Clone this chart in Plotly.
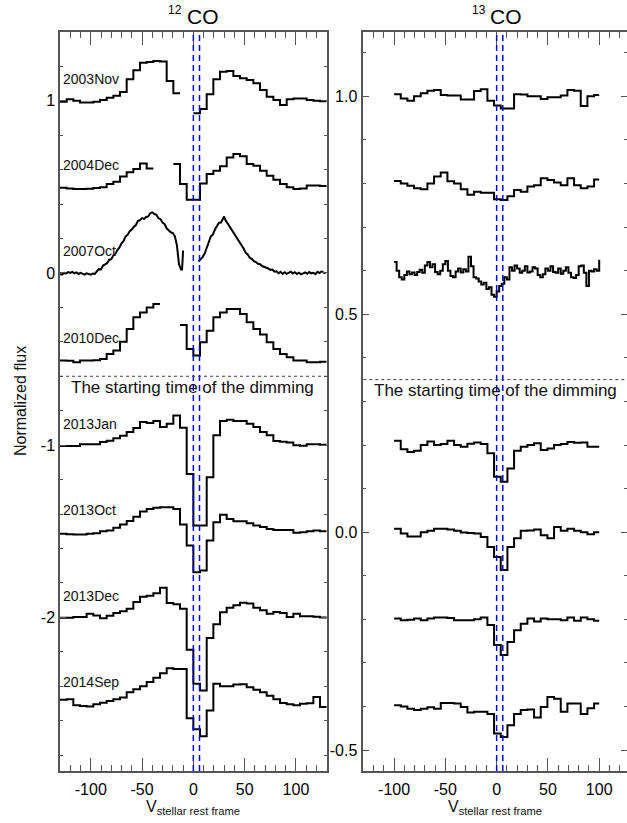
import plotly.graph_objects as go

FONT = "Liberation Sans, Arial, Helvetica, sans-serif"

# ---------------- 12CO (left panel) ----------------
v12_edges = [-130, -123.5, -117, -110.5, -104, -97.5, -91, -84.5, -78, -71.5,
             -65, -58.5, -52, -45.5, -39, -32.5, -26, -19.5, -13, -6.5,
             0, 6.5, 13, 19.5, 26, 32.5, 39, 45.5, 52, 58.5,
             65, 71.5, 78, 84.5, 91, 97.5, 104, 110.5, 117, 123.5, 130]

epochs12 = ["2003Nov", "2004Dec", "2007Oct", "2010Dec", "2013Jan", "2013Oct", "2013Dec", "2014Sep"]
offsets12 = [0.0, -0.5, -1.0, -1.5, -2.0, -2.5, -3.0, -3.5]

co12_2003Nov = [0.994, 1.008, 1.0, 0.99, 0.99, 0.994, 1.004, 1.017, 1.029, 1.05,
                1.125, 1.177, 1.22, 1.225, 1.23, 1.227, 1.115, 1.043, None, None,
                0.927, 0.952, 1.037, 1.125, 1.168, 1.172, 1.143, 1.13, 1.12, 1.101,
                1.062, 1.023, 1.004, 0.975, 1.008, 1.013, 1.013, 1.004, 1.0, 0.997]
co12_2004Dec = [0.995, 0.99, 0.987, 0.987, 0.989, 0.993, 0.997, 1.016, 1.03, 1.06,
                1.085, 1.103, 1.136, 1.107, None, None, None, 1.133, 1.016, 0.925,
                0.925, 1.02, 1.075, 1.094, 1.12, 1.17, 1.19, 1.177, 1.133, 1.123,
                1.094, 1.065, 1.041, 1.016, 0.997, 0.987, 0.99, 1.007, 1.007, 1.005]
co12_2010Dec = [0.991, 0.99, 0.981, 0.991, 0.991, 0.993, 1.001, 1.03, 1.05, 1.10,
                1.175, 1.242, 1.271, 1.30, 1.32, None, None, None, 1.198, 1.059,
                1.02, 1.097, 1.165, 1.242, 1.271, 1.291, 1.291, 1.262, 1.213, 1.175,
                1.142, 1.097, 1.059, 1.03, 1.01, 0.991, 0.991, 0.981, 0.981, 0.985]
co12_2013Jan = [0.995, 0.995, 0.995, 1.005, 1.005, 1.005, 1.018, 1.025, 1.04, 1.055,
                1.076, 1.1, 1.134, 1.128, 1.14, 1.105, 1.124, 1.172, 1.101, 0.833,
                0.533, 0.533, 0.814, 1.057, 1.14, 1.147, 1.14, 1.14, 1.124, 1.105,
                1.076, 1.057, 1.024, 1.02, 1.015, 1.0, 0.997, 1.005, 1.005, 1.003]
co12_2013Oct = [0.985, 0.983, 0.981, 0.981, 0.985, 0.989, 1.0, 1.005, 1.02, 1.04,
                1.06, 1.085, 1.115, 1.13, 1.137, 1.139, 1.139, 1.13, 1.039, 0.917,
                0.762, 0.772, 0.946, 1.053, 1.096, 1.071, 1.058, 1.058, 1.047, 1.033,
                1.025, 1.013, 1.008, 1.008, 1.008, 0.992, 0.995, 1.0, 1.004, 1.0]
co12_2013Dec = [0.998, 0.998, 1.002, 1.002, 1.021, 1.011, 0.995, 1.01, 1.025, 1.035,
                1.05, 1.09, 1.12, 1.125, 1.14, 1.172, 1.083, 1.076, 1.05, 0.812,
                0.615, 0.576, 0.88, 0.96, 1.03, 1.056, 1.07, 1.085, 1.08, 1.056,
                1.041, 1.021, 1.031, 1.026, 1.002, 1.021, 1.006, 1.006, 1.004, 1.0]
co12_2014Sep = [1.022, 1.025, 0.99, 0.985, 0.983, 0.995, 1.005, 1.015, 1.025, 1.035,
                1.065, 1.083, 1.1, 1.125, 1.15, 1.175, 1.205, 1.2, 1.2, 0.915,
                0.85, 0.81, 0.96, 1.115, 1.1, 1.1, 1.11, 1.112, 1.095, 1.08,
                1.065, 1.045, 1.025, 1.003, 0.995, 0.99, 0.998, 1.002, 1.037, 0.979]

# 2007Oct: high-resolution 12CO spectrum (gap near line centre)
v12_2007Oct = [-130, -128, -126, -124, -122, -120, -118, -116, -114, -112,
               -110, -108, -106, -104, -102, -100, -98, -96, -94, -92,
               -90, -88, -86, -84, -82, -80, -78, -76, -74, -72,
               -70, -68, -66, -64, -62, -60, -58, -56, -54, -52,
               -50, -48, -46, -44, -42, -40, -38, -36, -34, -32,
               -30, -28, -26, -24, -22, -20, -18, -16, -14, -12, -11, -10,
               None,
               5, 7, 9, 11, 13, 15, 17, 19, 21, 23,
               25, 27, 29, 30, 31, 33, 35, 37, 39, 41,
               43, 45, 47, 49, 51, 53, 55, 57, 59, 61,
               63, 65, 67, 69, 71, 73, 75, 77, 79, 81,
               83, 85, 87, 89, 91, 93, 95, 97, 99, 101,
               103, 105, 107, 109, 111, 113, 115, 117, 119, 121,
               123, 125, 127, 129]
co12_2007Oct = [0.995, 0.99, 1.0, 0.997, 1.005, 1.0, 1.006, 0.998, 1.003, 0.994,
                1.0, 0.996, 0.99, 0.998, 0.993, 0.99, 0.997, 0.994, 1.01, 1.022,
                1.02, 1.043, 1.05, 1.058, 1.077, 1.08, 1.102, 1.112, 1.133, 1.148,
                1.172, 1.186, 1.212, 1.222, 1.243, 1.252, 1.268, 1.278, 1.302, 1.306,
                1.318, 1.314, 1.325, 1.328, 1.347, 1.352, 1.342, 1.338, 1.318, 1.312,
                1.292, 1.283, 1.258, 1.248, 1.236, 1.232, 1.212, 1.16, 1.05, 1.02, 1.02, 1.13,
                None,
                1.066, 1.08, 1.092, 1.113, 1.142, 1.178, 1.212, 1.222, 1.252, 1.272,
                1.292, 1.293, 1.312, 1.328, 1.31, 1.292, 1.268, 1.252, 1.233, 1.217,
                1.198, 1.182, 1.163, 1.142, 1.118, 1.107, 1.088, 1.082, 1.068, 1.063,
                1.053, 1.051, 1.04, 1.036, 1.028, 1.026, 1.018, 1.02, 1.008, 1.01,
                0.998, 1.006, 0.994, 1.004, 0.995, 1.001, 1.007, 0.997, 1.004, 0.994,
                1.001, 0.992, 0.998, 1.003, 0.995, 1.005, 0.997, 1.001, 0.993, 1.007,
                0.999, 1.009, 1.002, 0.997]

# ---------------- 13CO (right panel) ----------------
v13_edges = [-100, -93.5, -87, -80.5, -74, -67.5, -61, -54.5, -48, -41.5,
             -35, -28.5, -22, -15.5, -9, -2.5, 4, 10.5, 17, 23.5,
             30, 36.5, 43, 49.5, 56, 62.5, 69, 75.5, 82, 88.5, 95, 100]

epochs13 = ["2003Nov", "2004Dec", "2007Oct", "2013Jan", "2013Oct", "2013Dec", "2014Sep"]
offsets13 = [0.0, -0.2, -0.4, -0.8, -1.0, -1.2, -1.4]

co13_2003Nov = [1.005, 0.995, 0.99, 1.0, 1.007, 1.013, 1.0145, 1.003, 1.002, 1.002,
                0.993, 0.993, 1.012, 1.016, 0.99, 0.979, 0.972, 0.972, 1.005, 1.004,
                1.0, 1.0, 0.994, 0.998, 0.998, 1.002, 1.0145, 1.013, 0.978, 1.0, 1.003]
co13_2004Dec = [1.006, 1.0, 0.995, 0.989, 0.987, 1.0, 1.016, 1.025, 1.005, 1.0,
                0.987, 0.974, 0.981, 0.979, 0.979, 0.964, 0.962, 0.971, 0.985, 0.981,
                0.993, 0.996, 1.012, 1.008, 1.002, 0.996, 1.012, 0.996, 0.989, 0.993, 1.009]
co13_2013Jan = [1.01, 0.99, 0.984, 0.987, 1.0, 1.008, 1.0, 1.002, 1.01, 1.0,
                0.996, 1.003, 1.006, 1.002, 0.981, 0.927, 0.9155, 0.946, 0.987, 0.996,
                1.0, 1.004, 0.9885, 0.992, 1.0, 1.002, 1.007, 1.005, 1.006, 0.996, 0.996]
co13_2013Oct = [1.008, 0.997, 0.99, 0.99, 1.0, 1.003, 1.008, 1.008, 1.006, 1.003,
                0.999, 0.998, 0.997, 0.989, 0.966, 0.943, 0.913, 0.966, 0.986, 1.003,
                1.004, 1.006, 0.993, 0.986, 1.012, 1.003, 1.008, 1.003, 1.0, 0.995, 1.0]
co13_2013Dec = [1.002, 0.998, 0.999, 1.002, 0.998, 1.002, 1.004, 1.004, 1.003, 0.998,
                0.998, 0.998, 1.0, 1.004, 0.987, 0.941, 0.918, 0.948, 0.975, 0.99,
                1.002, 0.995, 1.002, 1.0, 1.0, 0.998, 1.004, 0.997, 1.004, 1.0, 0.997]
co13_2014Sep = [1.003, 1.0, 0.995, 0.992, 0.995, 0.998, 0.995, 1.008, 1.008, 1.007,
                0.999, 0.986, 0.988, 0.988, 0.983, 0.938, 0.93, 0.957, 0.983, 0.992,
                0.993, 0.975, 0.999, 1.022, 1.018, 0.988, 1.007, 1.007, 0.983, 0.996, 1.007]

v13_2007Oct = [-100, -97.5, -95, -92.5, -90, -87.5, -85, -82.5, -80, -77.5,
               -75, -72.5, -70, -67.5, -65, -62.5, -60, -57.5, -55, -52.5,
               -50, -47.5, -45, -42.5, -40, -37.5, -35, -32.5, -30, -27.5,
               -25, -22.5, -20, -17.5, -15, -12.5, -10, -7.5, -5, -2.5,
               0, 2.5, 5, 7.5, 10, 12.5, 15, 17.5, 20, 22.5,
               25, 27.5, 30, 32.5, 35, 37.5, 40, 42.5, 45, 47.5,
               50, 52.5, 55, 57.5, 60, 62.5, 65, 67.5, 70, 72.5,
               75, 77.5, 80, 82.5, 85, 87.5, 90, 92.5, 95, 97.5, 100]
co13_2007Oct = [1.02, 1.0, 0.985, 0.98, 0.99, 0.998, 0.992, 0.996, 0.99, 0.997,
                1.002, 0.995, 1.012, 1.02, 1.008, 1.015, 0.997, 0.992, 1.0, 1.015,
                1.022, 1.0, 0.988, 0.985, 0.998, 1.005, 0.996, 1.003, 0.998, 1.032,
                1.01, 0.985, 0.982, 0.975, 0.968, 0.972, 0.958, 0.962, 0.945, 0.94,
                0.952, 0.965, 0.97, 0.985, 0.98, 1.008, 1.0, 1.012, 1.005, 0.995,
                1.0, 1.01, 0.996, 0.998, 1.008, 1.005, 0.99, 0.985, 0.992, 1.005,
                1.0, 1.01, 0.997, 0.995, 1.005, 0.993, 1.0, 1.008, 0.995, 0.985,
                0.983, 0.99, 1.01, 1.012, 0.995, 0.965, 1.0, 0.998, 1.003, 1.0, 1.025]

# markers / reference values
dimming12 = -0.6
dimming13 = 0.35
vline_marks = [0, 6]
x_ticks = [-100, -50, 0, 50, 100]
x_ticklabels = ["-100", "-50", "0", "50", "100"]
y12_ticks = [-2, -1, 0, 1]
y12_ticklabels = ["-2", "-1", "0", "1"]
y13_ticks = [-0.5, 0.0, 0.5, 1.0]
y13_ticklabels = ["-0.5", "0.0", "0.5", "1.0"]
label_dy = 0.125


def steps(edges, vals, off):
    xs, ys = [], []
    n = len(vals)
    for i, f in enumerate(vals):
        if f is None:
            if xs and xs[-1] is not None:
                xs.append(None)
                ys.append(None)
            continue
        xs.append(edges[i])
        ys.append(f + off)
        if i == n - 1 or vals[i + 1] is None:
            xs.append(edges[i + 1])
            ys.append(f + off)
    return xs, ys


fig = go.Figure()
LW = 2.0

steps12 = {"2003Nov": co12_2003Nov, "2004Dec": co12_2004Dec, "2010Dec": co12_2010Dec,
           "2013Jan": co12_2013Jan, "2013Oct": co12_2013Oct, "2013Dec": co12_2013Dec,
           "2014Sep": co12_2014Sep}
for ep, off in zip(epochs12, offsets12):
    if ep == "2007Oct":
        ys = [None if f is None else f + off for f in co12_2007Oct]
        fig.add_trace(go.Scatter(x=v12_2007Oct, y=ys, mode="lines",
                                 line=dict(color="black", width=LW),
                                 xaxis="x", yaxis="y", showlegend=False, hoverinfo="skip"))
    else:
        xs, ys = steps(v12_edges, steps12[ep], off)
        fig.add_trace(go.Scatter(x=xs, y=ys, mode="lines",
                                 line=dict(color="black", width=LW, shape="hv"),
                                 xaxis="x", yaxis="y", showlegend=False, hoverinfo="skip"))

steps13 = {"2003Nov": co13_2003Nov, "2004Dec": co13_2004Dec, "2013Jan": co13_2013Jan,
           "2013Oct": co13_2013Oct, "2013Dec": co13_2013Dec, "2014Sep": co13_2014Sep}
for ep, off in zip(epochs13, offsets13):
    if ep == "2007Oct":
        ys = [f + off for f in co13_2007Oct]
        fig.add_trace(go.Scatter(x=v13_2007Oct, y=ys, mode="lines",
                                 line=dict(color="black", width=LW, shape="hv"),
                                 xaxis="x2", yaxis="y2", showlegend=False, hoverinfo="skip"))
    else:
        xs, ys = steps(v13_edges, steps13[ep], off)
        fig.add_trace(go.Scatter(x=xs, y=ys, mode="lines",
                                 line=dict(color="black", width=LW, shape="hv"),
                                 xaxis="x2", yaxis="y2", showlegend=False, hoverinfo="skip"))

# dummy trace so that the right-side tick axis is drawn
fig.add_trace(go.Scatter(x=[None], y=[None], xaxis="x2", yaxis="y3",
                         showlegend=False, hoverinfo="skip"))

AX = "#555555"
TICKFONT = dict(family=FONT, size=16, color="black")

xcommon = dict(showgrid=False, zeroline=False, showline=True, linecolor=AX, linewidth=1.5,
               mirror="ticks", ticks="inside", ticklen=13, tickwidth=1.2, tickcolor=AX,
               tickmode="array", tickvals=x_ticks, ticktext=x_ticklabels,
               minor=dict(ticks="inside", ticklen=6, tickwidth=1, tickcolor=AX,
                          tickmode="linear", tick0=0, dtick=10, showgrid=False),
               tickfont=TICKFONT, ticklabelstandoff=3)

L_X0, L_X1 = 60 / 627, 326.7 / 627
R_X0, R_X1 = 363.3 / 627, 1.0
Y0, Y1 = 1 - 771 / 823, 1 - 32 / 823

fig.update_layout(
    width=627, height=823, margin=dict(l=0, r=0, t=0, b=0),
    paper_bgcolor="white", plot_bgcolor="white",
    font=dict(family=FONT, color="black"),
    xaxis=dict(domain=[L_X0, L_X1], range=[-130, 130], anchor="y", **xcommon),
    xaxis2=dict(domain=[R_X0, R_X1], range=[-130, 127.1], anchor="y2", **xcommon),
    yaxis=dict(domain=[Y0, Y1], range=[-2.892, 1.399], anchor="x",
               showgrid=False, zeroline=False, showline=True, linecolor=AX, linewidth=1.5,
               mirror="ticks", ticks="inside", ticklen=6, tickwidth=1.2, tickcolor=AX,
               tickmode="array", tickvals=y12_ticks, ticktext=y12_ticklabels,
               minor=dict(ticks="inside", ticklen=3, tickwidth=1, tickcolor=AX,
                          tickmode="linear", tick0=0, dtick=0.2, showgrid=False),
               tickfont=TICKFONT, ticklabelstandoff=0),
    yaxis2=dict(domain=[Y0, Y1], range=[-0.548, 1.1476], anchor="x2",
                showgrid=False, zeroline=False, showline=True, linecolor=AX, linewidth=1.5,
                mirror=False, ticks="inside", ticklen=6, tickwidth=1.2, tickcolor=AX,
                tickmode="array", tickvals=y13_ticks, ticktext=y13_ticklabels,
                minor=dict(ticks="inside", ticklen=3, tickwidth=1, tickcolor=AX,
                           tickmode="linear", tick0=0, dtick=0.1, showgrid=False),
                tickfont=TICKFONT, ticklabelstandoff=1),
    yaxis3=dict(overlaying="y2", side="right", anchor="x2", range=[-0.548, 1.1476],
                showgrid=False, zeroline=False, showline=False, showticklabels=False,
                ticks="inside", ticklen=6, tickwidth=1.2, tickcolor=AX,
                tickmode="array", tickvals=y13_ticks,
                minor=dict(ticks="inside", ticklen=3, tickwidth=1, tickcolor=AX,
                           tickmode="linear", tick0=0, dtick=0.1, showgrid=False)),
)

shapes = []
for xr, yr in (("x", "y domain"), ("x2", "y2 domain")):
    for v in vline_marks:
        shapes.append(dict(type="line", xref=xr, yref=yr, x0=v, x1=v, y0=0, y1=1,
                           line=dict(color="#0000ee", width=1.5, dash="6px,4px")))
shapes.append(dict(type="line", xref="x domain", yref="y", x0=0, x1=1, y0=dimming12, y1=dimming12,
                   line=dict(color="#444444", width=1, dash="dot")))
shapes.append(dict(type="line", xref="x2 domain", yref="y2", x0=0, x1=1, y0=dimming13, y1=dimming13,
                   line=dict(color="#444444", width=1, dash="dot")))
fig.update_layout(shapes=shapes)

ann = []
for ep, off in zip(epochs12, offsets12):
    ann.append(dict(text=ep, xref="x", yref="y", x=-129, y=1 + off + label_dy,
                    xanchor="left", yanchor="middle", showarrow=False,
                    font=dict(family=FONT, size=14, color="#111111")))
ann.append(dict(text="The starting time of the dimming", xref="x", yref="y", x=-1, y=dimming12,
                yshift=-11, xanchor="center", yanchor="middle", showarrow=False,
                font=dict(family=FONT, size=17, color="#111111")))
ann.append(dict(text="The starting time of the dimming", xref="x2", yref="y2", x=-1.3, y=dimming13,
                yshift=-11, xanchor="center", yanchor="middle", showarrow=False,
                font=dict(family=FONT, size=17, color="#111111")))
# panel titles
for xc, iso in ((193.3, "12"), (496.5, "13")):
    ann.append(dict(text=iso, xref="paper", yref="paper", x=(xc - 9) / 627, y=1 - 10 / 823,
                    xanchor="right", yanchor="middle", showarrow=False,
                    font=dict(family=FONT, size=12, color="black")))
    ann.append(dict(text="CO", xref="paper", yref="paper", x=(xc - 8.5) / 627, y=1 - 16 / 823,
                    xanchor="left", yanchor="middle", showarrow=False,
                    font=dict(family=FONT, size=21, color="black")))
# x-axis titles
for xc in (192.5, 495.0):
    ann.append(dict(text="V<sub>stellar rest frame</sub>", xref="paper", yref="paper",
                    x=xc / 627, y=1 - 807 / 823, xanchor="center", yanchor="middle",
                    showarrow=False, font=dict(family=FONT, size=16, color="#111111")))
# y-axis title
ann.append(dict(text="Normalized flux", xref="paper", yref="paper", x=20 / 627, y=1 - 401 / 823,
                textangle=-90, xanchor="center", yanchor="middle", showarrow=False,
                font=dict(family=FONT, size=16, color="#111111")))
fig.update_layout(annotations=ann)

fig.write_html("out.html")
